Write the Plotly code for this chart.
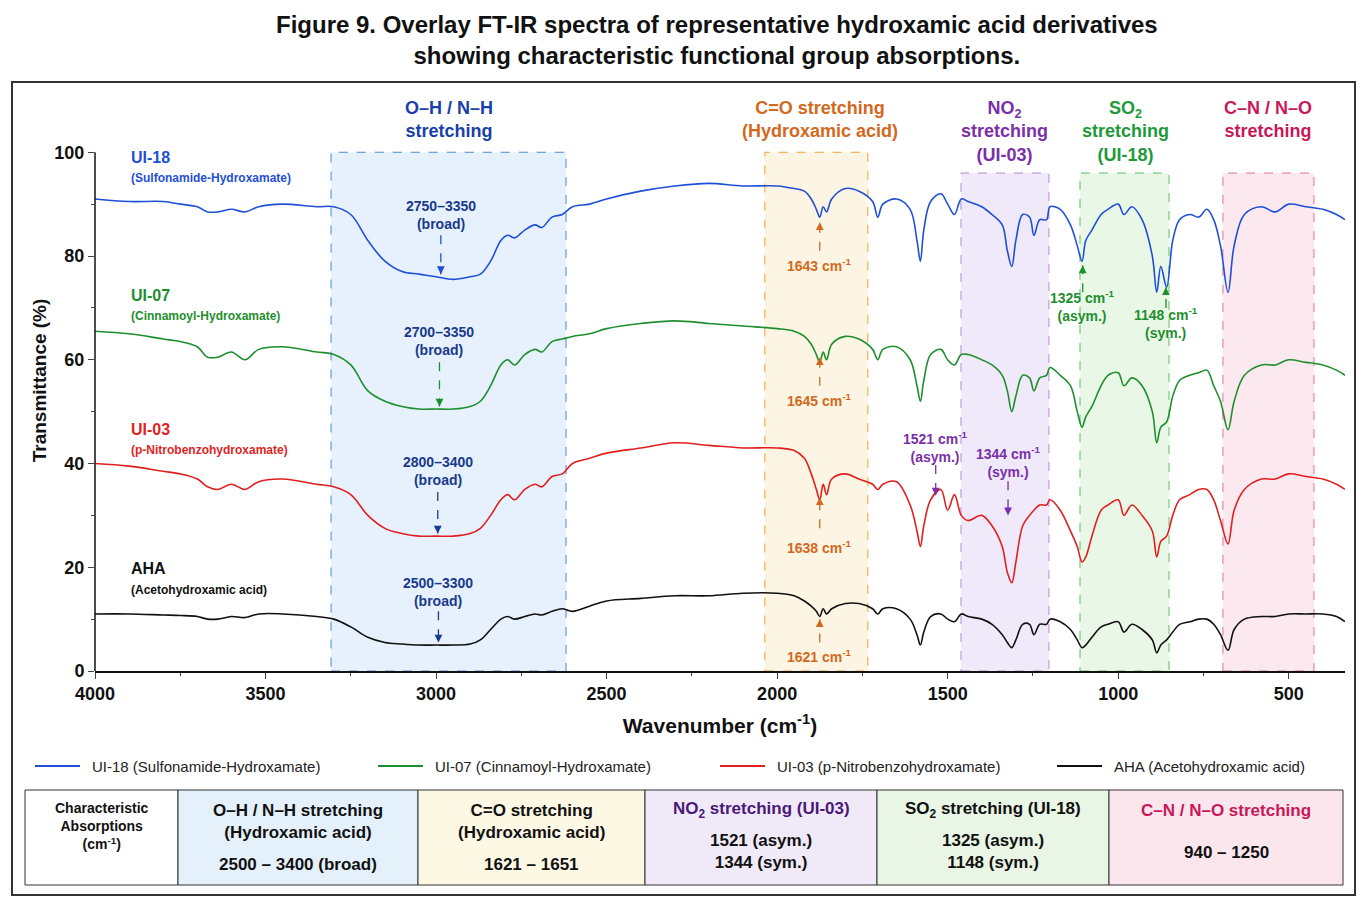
import plotly.graph_objects as go

# wavenumber grid and transmittance values
wn = [4000, 3900, 3800, 3750, 3700, 3670, 3640, 3600, 3560, 3520, 3450, 3350, 3300, 3250, 3200, 3150,
      3100, 3050, 3000, 2950, 2900, 2870, 2840, 2810, 2790, 2770, 2740, 2710, 2690, 2660, 2630, 2600,
      2550, 2500, 2400, 2300, 2200, 2100, 2000, 1950, 1920, 1900, 1885, 1875, 1865, 1855, 1840, 1800,
      1760, 1720, 1705, 1690, 1650, 1610, 1590, 1580, 1570, 1550, 1520, 1500, 1480, 1460, 1440, 1400,
      1370, 1340, 1325, 1312, 1300, 1280, 1260, 1247, 1230, 1210, 1200, 1170, 1140, 1120, 1106, 1095,
      1077, 1050, 1030, 1000, 983, 960, 930, 900, 887, 875, 858, 840, 820, 790, 764, 740, 720, 700,
      678, 660, 630, 580, 540, 500, 450, 400, 360, 335]

ui18 = [91, 90.5, 90.5, 90, 89.5, 88.5, 88.5, 89, 88.5, 89.5, 90, 89.5, 89.5, 88, 83, 79,
        77, 76.5, 76, 75.5, 76, 76.5, 79, 83, 84, 83.5, 85, 86, 85.5, 87.5, 88, 89.5,
        90, 91, 92.5, 93.5, 94, 93.5, 93.5, 93, 92.5, 91, 89, 87.5, 89.5, 88.5, 91, 93,
        92.5, 90.5, 87.5, 90, 91, 89, 83, 79, 85, 90.5, 92, 90, 88, 91, 90.5, 89.5,
        88, 86, 81, 78, 83, 88, 87.5, 84, 87, 87, 89.5, 89, 86, 82, 79, 83,
        85, 88, 89, 90, 88, 89.5, 87, 80, 73, 78, 74, 83, 87, 88, 87.5, 89, 87, 82,
        73, 82, 88, 89.5, 88.5, 90, 89.5, 89, 88, 87]
ui07 = [65.5, 65, 64, 63.5, 62.5, 60.5, 60.5, 61.5, 60, 62, 62.5, 61.5, 61, 59, 54, 52,
        51, 50.5, 50.5, 50.5, 51, 52, 55, 59, 60, 59, 61, 62, 61.5, 63.5, 64, 64.5,
        65, 66, 67, 67.5, 67, 66.5, 66, 65.5, 64.5, 63, 61, 59.5, 61.5, 60, 63, 64.5,
        64, 62, 60, 62, 62.5, 60, 55, 52, 56, 61, 62, 60, 59, 61, 61, 60,
        59, 57, 54, 50, 53, 57, 56.5, 54, 56.5, 57, 58.5, 57, 55, 50, 47, 49,
        51, 55, 57, 57.5, 55, 56.5, 55, 50, 44, 47, 48, 53, 56, 57, 57.5, 58, 55, 52,
        46.5, 52, 57, 59, 59, 60, 59.5, 59, 58, 57]
ui03 = [40, 39.5, 38.5, 38, 37, 35.5, 35, 36, 35, 36.5, 37, 36, 35.5, 34, 30, 27.5,
        26.5, 26, 26, 26, 26.5, 27.5, 30, 33, 34, 33, 35, 36, 35.5, 37.5, 38, 40,
        41, 42, 43, 44, 43.5, 43, 43, 42.5, 41, 38, 35, 33, 36, 34, 37, 38,
        37, 36, 35, 36, 36.5, 32, 27, 24, 28, 33, 35, 31, 34, 30, 29, 30,
        28, 24, 19, 17, 21, 28, 30, 31, 32, 32, 33, 31, 27, 24, 21, 22,
        26, 31, 32, 33, 30, 32, 30, 27, 22, 25, 26, 30, 33, 34, 35, 35, 33, 29,
        24.5, 31, 35, 37, 37, 38, 37.5, 37, 36, 35]
aha = [11, 11, 10.8, 10.7, 10.5, 10, 10, 10.5, 10.3, 11, 11, 10.5, 10, 8.5, 6.5, 5.5,
       5.2, 5, 5, 5, 5.2, 6, 8, 10, 10.5, 10, 10.5, 11, 10.8, 11.5, 12, 11.5,
       12.5, 13.5, 14, 14.5, 14.5, 15, 15, 14.5, 13.5, 12.5, 11.5, 10.5, 12, 11, 12, 13,
       13, 12, 11, 12, 12, 10, 7, 5, 7.5, 10.5, 11, 10, 9.5, 11, 10.5, 10,
       9, 7, 5.5, 4.5, 6, 9, 9, 7, 9, 9, 10, 9.5, 8, 6, 4.5, 5,
       6.5, 8.5, 9, 9.5, 7.5, 9, 8, 6, 3.5, 5, 6, 7.5, 9, 9.5, 10, 10, 9, 7,
       4, 8, 10, 10.5, 10.5, 11, 11, 11, 10.5, 9.5]

series = [
    ("UI-18 (Sulfonamide-Hydroxamate)", ui18, "#1f4fd6"),
    ("UI-07 (Cinnamoyl-Hydroxamate)", ui07, "#1e8f2e"),
    ("UI-03 (p-Nitrobenzohydroxamate)", ui03, "#e01f1f"),
    ("AHA (Acetohydroxamic acid)", aha, "#111111"),
]

FONT = "Liberation Sans, Arial, sans-serif"
fig = go.Figure()
for name, vals, col in series:
    fig.add_trace(go.Scatter(x=wn, y=vals, mode="lines", name=name, line=dict(color=col, width=1.6),
                             line_shape="spline", showlegend=False))

# pixel -> paper helpers (reference pixel coordinates)
def px(X):
    return (X - 95) / 1250
def py(Y):
    return (671 - Y) / 581

# shaded regions: (x0, x1, ytop, fill, edge, label, label x, label colour)
regions = [
    (3308, 2619, 100, "rgba(200,225,250,0.45)", "#4a86d9", "O–H / N–H<br>stretching", 2962, "#1a3fa8"),
    (2036, 1734, 100, "rgba(252,236,200,0.5)", "#f0a030", "C=O stretching<br>(Hydroxamic acid)", 1875, "#d2691e"),
    (1461, 1203, 96, "rgba(228,215,245,0.55)", "#b48ad8", "NO<sub>2</sub><br>stretching<br>(UI-03)", 1332, "#7b2fa8"),
    (1112, 851, 96, "rgba(215,240,210,0.55)", "#5cbf5c", "SO<sub>2</sub><br>stretching<br>(UI-18)", 980, "#1e9a3a"),
    (693, 426, 96, "rgba(250,215,228,0.55)", "#e0709a", "C–N / N–O<br>stretching", 561, "#c8185a"),
]
for x0, x1, yt, fill, edge, lab, lx, lc in regions:
    fig.add_shape(type="rect", x0=x0, x1=x1, y0=0, y1=yt, fillcolor=fill,
                  line=dict(color=edge, width=1, dash="dash"), layer="below")
    fig.add_annotation(x=lx, y=py(96), yref="paper", text="<b>" + lab + "</b>", showarrow=False,
                       yanchor="top", font=dict(size=18, color=lc))

# series labels on the left
labels = [("UI-18", "(Sulfonamide-Hydroxamate)", 99, 95, "#1f4fd6"),
          ("UI-07", "(Cinnamoyl-Hydroxamate)", 72.4, 68.4, "#1e8f2e"),
          ("UI-03", "(p-Nitrobenzohydroxamate)", 46.6, 42.6, "#e01f1f"),
          ("AHA", "(Acetohydroxamic acid)", 19.7, 15.6, "#111111")]
for t, s, y1, y2, c in labels:
    fig.add_annotation(x=3900, y=y1, text="<b>" + t + "</b>", showarrow=False, xanchor="left",
                       font=dict(size=16, color=c))
    fig.add_annotation(x=3900, y=y2, text="<b>" + s + "</b>", showarrow=False, xanchor="left",
                       font=dict(size=12, color=c))

def marker(x, ytext, y0, y1, text, col, tcol, size=14):
    fig.add_annotation(x=x, y=ytext, text="<b>" + text + "</b>", showarrow=False, font=dict(size=size, color=tcol))
    fig.add_shape(type="line", x0=x, x1=x, y0=y0, y1=y1, line=dict(color=col, width=1.3, dash="dash"))
    fig.add_annotation(x=x, y=y1, ax=0, ay=(8 if y1 > y0 else -8), axref="pixel", ayref="pixel",
                       text="", showarrow=True, arrowhead=2, arrowsize=1.2, arrowwidth=1.3, arrowcolor=col)

navy = "#1a3a8c"
orange = "#d2691e"
purple = "#7b2fa8"
green = "#1e8f2e"
marker(2986, 88, 84, 76.5, "2750–3350<br>(broad)", "#1f4fd6", navy)
marker(2990, 63.7, 59.5, 51, "2700–3350<br>(broad)", green, navy)
marker(2995, 38.5, 34.5, 26.5, "2800–3400<br>(broad)", navy, navy)
marker(2993, 15.3, 11.5, 5.5, "2500–3300<br>(broad)", navy, navy)
marker(1875, 78.2, 81, 86.5, "1643 cm<sup>-1</sup>", orange, orange)
marker(1875, 52.2, 55, 60.5, "1645 cm<sup>-1</sup>", orange, orange)
marker(1875, 24, 27.5, 33.5, "1638 cm<sup>-1</sup>", orange, orange)
marker(1875, 2.9, 5.5, 10, "1621 cm<sup>-1</sup>", orange, orange)
marker(1104, 70.3, 73, 78.2, "1325 cm<sup>-1</sup><br>(asym.)", green, green)
marker(860, 67, 70, 74, "1148 cm<sup>-1</sup><br>(sym.)", green, green)
marker(1535, 43.2, 39.7, 33.8, "1521 cm<sup>-1</sup><br>(asym.)", purple, purple)
marker(1323, 40.2, 36.6, 30, "1344 cm<sup>-1</sup><br>(sym.)", purple, purple)

# y axis line only up to 100
fig.add_shape(type="line", xref="paper", x0=0, x1=0, y0=0, y1=100, line=dict(color="#111", width=1.5))

# title
fig.add_annotation(xref="paper", yref="paper", x=px(717), y=py(40), xanchor="center", yanchor="middle",
                   showarrow=False, font=dict(size=24, color="#111"),
                   text="<b>Figure 9. Overlay FT-IR spectra of representative hydroxamic acid derivatives<br>"
                        "showing characteristic functional group absorptions.</b>")

# outer frame
fig.add_shape(type="rect", xref="paper", yref="paper", x0=px(12), x1=px(1355), y0=py(82), y1=py(895),
              line=dict(color="#333", width=2), fillcolor="rgba(0,0,0,0)")

# legend drawn by hand
for (name, vals, col), lx in zip(series, [35, 378, 720, 1057]):
    fig.add_shape(type="line", xref="paper", yref="paper", x0=px(lx), x1=px(lx + 45), y0=py(766), y1=py(766),
                  line=dict(color=col, width=2))
    fig.add_annotation(xref="paper", yref="paper", x=px(lx + 55), y=py(766), xanchor="left", yanchor="middle",
                       text=name, showarrow=False, font=dict(size=15, color="#222"))

# summary table
cols = [25, 178, 418, 645, 877, 1109, 1343]
fills = ["white", "#e4f1fb", "#fdf8e4", "#f0e9f8", "#e9f5e5", "#fbe6ee"]
cells = [
    ("Characteristic<br>Absorptions<br>(cm<sup>-1</sup>)", None, "#111", 14),
    ("O–H / N–H stretching<br>(Hydroxamic acid)", "2500 – 3400 (broad)", "#111", 17),
    ("C=O stretching<br>(Hydroxamic acid)", "1621 – 1651", "#111", 17),
    ("NO<sub>2</sub> stretching (UI-03)", "1521 (asym.)<br>1344 (sym.)", "#4a1a7a", 17),
    ("SO<sub>2</sub> stretching (UI-18)", "1325 (asym.)<br>1148 (sym.)", "#111", 17),
    ("C–N / N–O stretching", "940 – 1250", "#c8185a", 17),
]
for i in range(6):
    fig.add_shape(type="rect", xref="paper", yref="paper", x0=px(cols[i]), x1=px(cols[i + 1]),
                  y0=py(790), y1=py(885), fillcolor=fills[i], line=dict(color="#333", width=1))
    head, body, tc, fs = cells[i]
    cx = px((cols[i] + cols[i + 1]) / 2)
    if body is None:
        spots = [(head, 826, tc)]
    elif i in (1, 2):
        spots = [(head, 821, tc), (body, 864, "#111")]
    elif i == 5:
        spots = [(head, 810, tc), (body, 852, "#111")]
    else:
        spots = [(head, 810, tc), (body, 851, "#111")]
    for txt, yy, c in spots:
        fig.add_annotation(xref="paper", yref="paper", x=cx, y=py(yy), xanchor="center", yanchor="middle",
                           text="<b>" + txt + "</b>", showarrow=False, font=dict(size=fs, color=c))

xt = [4000, 3500, 3000, 2500, 2000, 1500, 1000, 500]
yt = [0, 20, 40, 60, 80, 100]
# page body has an 8px margin, so the figure is 16px smaller and margins shifted by 8
fig.update_layout(
    width=1352, height=896,
    margin=dict(l=87, r=15, t=82, b=233),
    paper_bgcolor="white", plot_bgcolor="rgba(0,0,0,0)",
    font=dict(family=FONT, color="#111"),
    showlegend=False,
    xaxis=dict(range=[4000, 335], tickvals=xt, ticktext=["<b>%d</b>" % v for v in xt],
               ticks="outside", ticklen=6, showline=True, linecolor="#111", linewidth=1.5,
               showgrid=False, zeroline=False, tickfont=dict(size=18),
               minor=dict(dtick=250, ticks="outside", ticklen=3),
               title=dict(text="<b>Wavenumber (cm<sup>-1</sup>)</b>", font=dict(size=21))),
    yaxis=dict(range=[0, 112], tickvals=yt, ticktext=["<b>%d</b>" % v for v in yt],
               ticks="outside", ticklen=6, showline=False,
               showgrid=False, zeroline=False, tickfont=dict(size=18),
               minor=dict(tickvals=[10, 30, 50, 70, 90], ticks="outside", ticklen=3),
               title=dict(text="<b>Transmittance (%)</b>", font=dict(size=19), standoff=2)),
)

fig.write_html("out.html")
